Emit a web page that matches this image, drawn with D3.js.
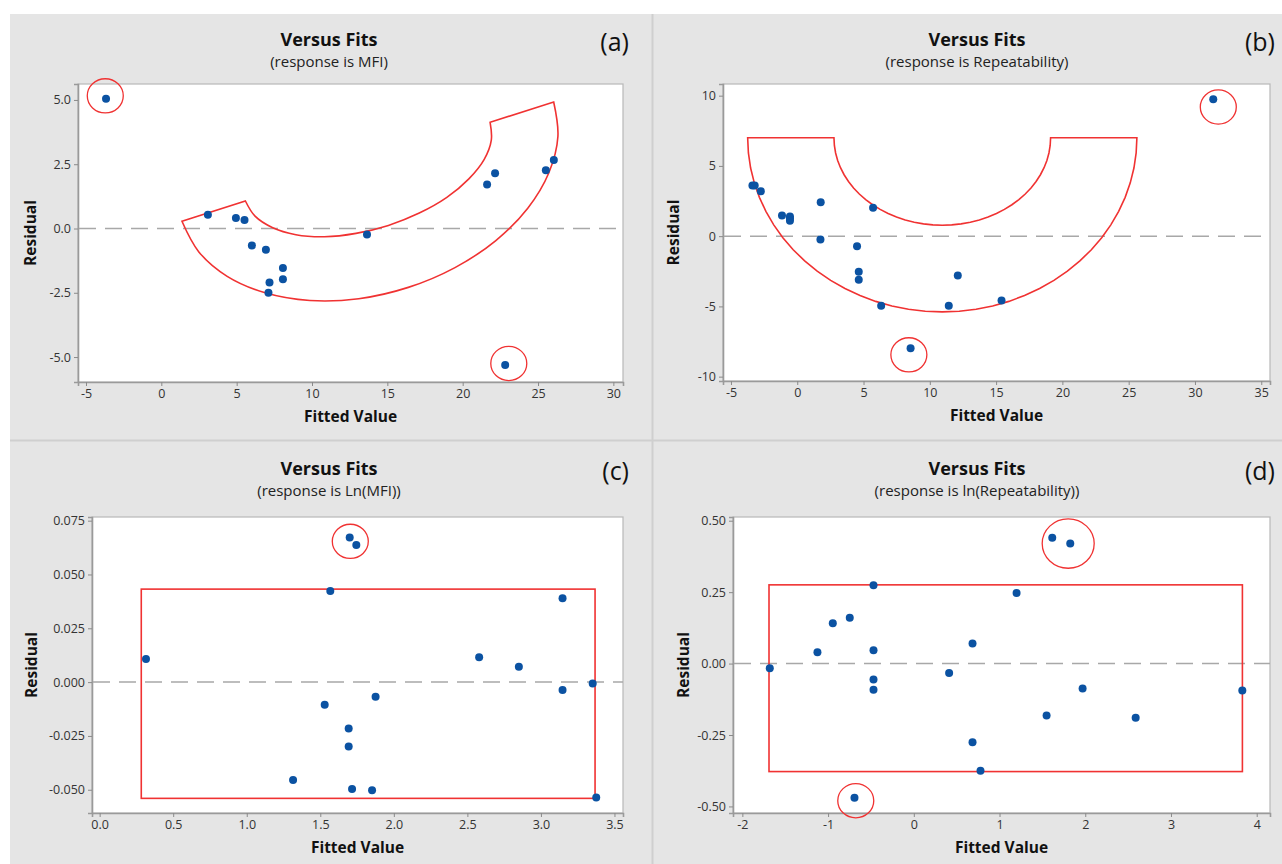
<!DOCTYPE html>
<html>
<head>
<meta charset="utf-8">
<script src="https://cdn.jsdelivr.net/npm/d3@7"></script>
<style>
  body { margin: 0; background: #fff; }
  svg { display: block; font-family: "Open Sans", sans-serif; }
</style>
</head>
<body>
<div id="chart"></div>
<script>
// ---- data ----

// (a) response is MFI
const fitA = [-3.67, 3.09, 4.95, 5.52, 6.01, 6.94, 8.07, 8.07, 7.18, 7.11, 13.65, 22.82, 22.15, 21.62, 25.52, 26.05];
const resA = [5.05, 0.53, 0.41, 0.33, -0.66, -0.83, -1.54, -1.97, -2.10, -2.50, -0.23, -5.31, 2.15, 1.71, 2.27, 2.66];
const xTicksA = [-5, 0, 5, 10, 15, 20, 25, 30];
const yTicksA = [-5, -2.5, 0, 2.5, 5];

// (b) response is Repeatability
const fitB = [-3.38, -3.21, -2.75, -1.15, -0.55, -0.55, -0.55, 1.77, 1.75, 5.72, 4.51, 4.64, 4.64, 6.33, 11.43, 12.11, 8.55, 15.41, 31.38];
const resB = [3.61, 3.61, 3.20, 1.47, 1.40, 1.25, 1.10, 2.42, -0.24, 2.02, -0.71, -2.54, -3.10, -4.96, -4.96, -2.80, -7.98, -4.58, 9.74];
const xTicksB = [-5, 0, 5, 10, 15, 20, 25, 30, 35];
const yTicksB = [-10, -5, 0, 5, 10];

// (c) response is Ln(MFI)
const fitC = [0.315, 1.315, 1.53, 1.568, 1.70, 1.745, 1.693, 1.693, 1.716, 1.852, 1.876, 2.58, 2.85, 3.147, 3.147, 3.352, 3.376];
const resC = [0.0107, -0.0455, -0.0105, 0.0423, 0.0672, 0.0637, -0.0215, -0.0299, -0.0497, -0.0502, -0.0068, 0.0116, 0.0071, 0.039, -0.0037, -0.0006, -0.0536];
const xTicksC = [0, 0.5, 1, 1.5, 2, 2.5, 3, 3.5];
const yTicksC = [-0.05, -0.025, 0, 0.025, 0.05, 0.075];

// (d) response is ln(Repeatability)
const fitD = [-1.68, -1.124, -0.945, -0.747, -0.47, -0.47, -0.47, -0.47, 0.412, -0.692, 0.685, 0.685, 0.778, 1.199, 1.615, 1.825, 1.549, 1.969, 2.588, 3.832];
const resD = [-0.0165, 0.0396, 0.141, 0.160, 0.274, 0.0466, -0.056, -0.092, -0.0326, -0.470, 0.070, -0.275, -0.375, 0.247, 0.440, 0.420, -0.182, -0.0875, -0.190, -0.0945];
const xTicksD = [-2, -1, 0, 1, 2, 3, 4];
const yTicksD = [-0.5, -0.25, 0, 0.25, 0.5];

// hand-drawn red annotations (data units)
const bandOuterA = [[1.37, 0.28], [2.49, -0.91], [4.37, -1.86], [6.89, -2.50], [9.86, -2.80], [13.10, -2.73], [16.39, -2.29],
                    [19.49, -1.52], [22.20, -0.47], [24.32, 0.79], [25.72, 2.17], [26.32, 3.58], [26.04, 4.92]];
const bandInnerA = [[21.82, 4.13], [21.90, 3.44], [21.42, 2.68], [20.41, 1.93], [18.95, 1.21], [17.12, 0.60], [15.07, 0.12],
                    [12.92, -0.19], [10.83, -0.32], [8.93, -0.24], [7.36, 0.04], [6.22, 0.48], [5.58, 1.07]];
const ringB = {cx: 10.94, cy: 7.0, outerRx: 14.68, outerRy: 12.39, innerRx: 8.17, innerRy: 6.22};
const boxC = [0.283, 3.368, -0.054, 0.0432];
const boxD = [-1.689, 3.833, -0.378, 0.2755];
const ringsA = [[-3.72, 5.16, 18], [23.06, -5.25, 18]];
const ringsB = [[8.42, -8.45, 18], [31.76, 9.19, 18]];
const ringsC = [[1.704, 0.0654, 18]];
const ringsD = [[-0.677, -0.480, 18], [1.801, 0.420, 26]];

// ---- drawing ----
const W = 1282, H = 864;
const red = "#f03232", blue = "#0b52a2";
const loc = d3.formatLocale({decimal: ".", thousands: ",", grouping: [3], currency: ["", ""], minus: "-"});

const svg = d3.select("#chart").append("svg").attr("width", W).attr("height", H);

svg.append("rect").attr("x", 10).attr("y", 14).attr("width", W - 10).attr("height", H - 14).attr("fill", "#e5e5e5");
svg.append("line").attr("x1", 652.5).attr("x2", 652.5).attr("y1", 14).attr("y2", H)
    .attr("stroke", "#cfcfcf").attr("stroke-width", 2);
svg.append("line").attr("x1", 10).attr("x2", W).attr("y1", 440.5).attr("y2", 440.5)
    .attr("stroke", "#cfcfcf").attr("stroke-width", 2);

const panels = [
  {tag: "(a)", sub: "(response is MFI)", fit: fitA, res: resA, xt: xTicksA, yt: yTicksA, xf: "d", yf: ".1f",
   box: [78, 623, 84, 382], xd: [-5.53, 30.64], yd: [-5.97, 5.62], tx: 329, ty: 14, tagX: 629, rings: ringsA},
  {tag: "(b)", sub: "(response is Repeatability)", fit: fitB, res: resB, xt: xTicksB, yt: yTicksB, xf: "d", yf: "d",
   box: [723, 1270, 84, 381], xd: [-5.6, 35.66], yd: [-10.31, 10.83], tx: 977, ty: 14, tagX: 1275, rings: ringsB},
  {tag: "(c)", sub: "(response is Ln(MFI))", fit: fitC, res: resC, xt: xTicksC, yt: yTicksC, xf: ".1f", yf: ".3f",
   box: [92, 623, 517, 813], xd: [-0.052, 3.558], yd: [-0.0608, 0.0767], tx: 329, ty: 443, tagX: 629, rings: ringsC},
  {tag: "(d)", sub: "(response is ln(Repeatability))", fit: fitD, res: resD, xt: xTicksD, yt: yTicksD, xf: "d", yf: ".2f",
   box: [733, 1270, 517, 813], xd: [-2.109, 4.155], yd: [-0.523, 0.513], tx: 977, ty: 443, tagX: 1275, rings: ringsD}
];

panels.forEach((p, i) => {
  const [x0, x1, y0, y1] = p.box;
  const x = d3.scaleLinear().domain(p.xd).range([x0, x1]);
  const y = d3.scaleLinear().domain(p.yd).range([y1, y0]);
  const g = svg.append("g");

  // titles
  g.append("text").attr("x", p.tx).attr("y", p.ty + 32).attr("text-anchor", "middle")
      .attr("font-size", 18).attr("font-weight", 700).attr("fill", "#111").text("Versus Fits");
  g.append("text").attr("x", p.tx).attr("y", p.ty + 53).attr("text-anchor", "middle")
      .attr("font-size", 15).attr("fill", "#222").text(p.sub);
  g.append("text").attr("x", p.tagX).attr("y", p.ty + 37).attr("text-anchor", "end")
      .attr("font-size", 25).attr("fill", "#111").text(p.tag);

  // plot area
  g.append("rect").attr("x", x0).attr("y", y0).attr("width", x1 - x0).attr("height", y1 - y0)
      .attr("fill", "#fff").attr("stroke", "#b8b8b8").attr("stroke-width", 1.2);

  const ax = g.append("g").attr("transform", `translate(0,${y1})`)
      .call(d3.axisBottom(x).tickValues(p.xt).tickSize(4).tickPadding(3).tickFormat(loc.format(p.xf)));
  const ay = g.append("g").attr("transform", `translate(${x0},0)`)
      .call(d3.axisLeft(y).tickValues(p.yt).tickSize(4).tickPadding(3).tickFormat(loc.format(p.yf)));
  [ax, ay].forEach(a => {
    a.select(".domain").attr("stroke", "#9a9a9a").attr("stroke-width", 1.6);
    a.selectAll(".tick line").attr("stroke", "#8a8a8a");
    a.selectAll(".tick text").attr("fill", "#333").attr("font-size", 12.5).attr("font-family", "Open Sans, sans-serif");
  });

  // axis titles
  g.append("text").attr("x", (x0 + x1) / 2).attr("y", y1 + 40).attr("text-anchor", "middle")
      .attr("font-size", 15.5).attr("font-weight", 700).attr("fill", "#111").text("Fitted Value");
  g.append("text").attr("transform", `translate(${x0 - (i % 2 ? 44 : (i ? 55 : 42))},${(y0 + y1) / 2}) rotate(-90)`)
      .attr("text-anchor", "middle").attr("font-size", 15.5).attr("font-weight", 700).attr("fill", "#111").text("Residual");

  // reference line at 0
  g.append("line").attr("x1", x0 + 1).attr("x2", x1).attr("y1", y(0)).attr("y2", y(0))
      .attr("stroke", "#a8a8a8").attr("stroke-width", 1.5).attr("stroke-dasharray", "17,9");

  // red annotations
  const ann = g.append("g").attr("fill", "none").attr("stroke", red).attr("stroke-width", 1.6);
  if (i === 0) {
    const ln = d3.line().x(d => x(d[0])).y(d => y(d[1])).curve(d3.curveCatmullRom);
    ann.append("path").attr("d", ln(bandOuterA) + "L" + ln(bandInnerA).slice(1) + "Z");
  } else if (i === 1) {
    const r = ringB;
    const ang = d3.range(0, 181, 5).map(a => a * Math.PI / 180);
    const outer = ang.map(t => [r.cx - r.outerRx * Math.cos(t), r.cy - r.outerRy * Math.sin(t)]);
    const inner = ang.slice().reverse().map(t => [r.cx - r.innerRx * Math.cos(t), r.cy - r.innerRy * Math.sin(t)]);
    const ln = d3.line().x(d => x(d[0])).y(d => y(d[1]));
    ann.append("path").attr("d", ln(outer.concat(inner)) + "Z");
  } else {
    const b = i === 2 ? boxC : boxD;
    ann.append("rect").attr("x", x(b[0])).attr("y", y(b[3]))
        .attr("width", x(b[1]) - x(b[0])).attr("height", y(b[2]) - y(b[3]));
  }
  ann.selectAll("ellipse").data(p.rings).join("ellipse")
      .attr("cx", d => x(d[0])).attr("cy", d => y(d[1]))
      .attr("rx", d => d[2]).attr("ry", d => d[2] * 0.95).attr("stroke-width", 1.3);

  // points
  g.append("g").selectAll("circle").data(p.fit.map((f, k) => [f, p.res[k]])).join("circle")
      .attr("cx", d => x(d[0])).attr("cy", d => y(d[1])).attr("r", 4).attr("fill", blue);
});
</script>
</body>
</html>
